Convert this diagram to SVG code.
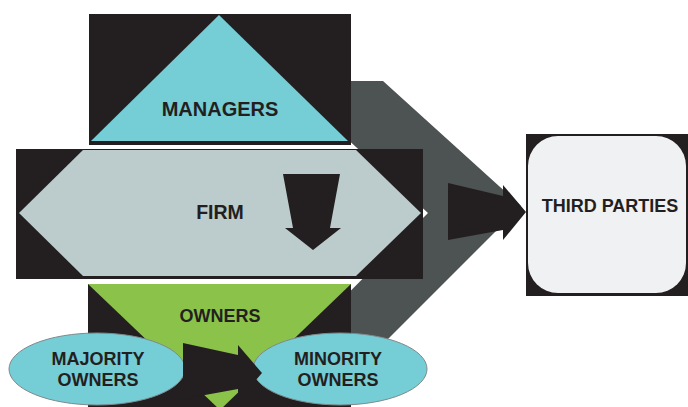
<svg xmlns="http://www.w3.org/2000/svg" width="688" height="407" viewBox="0 0 688 407">
  <style>
    .lbl { font-family: "Liberation Sans", Arial, sans-serif; font-weight: bold; fill: #231f20; text-anchor: middle; }
    .blk { fill: #231f20; }
    .oval { fill: #75cdd6; stroke: #7f8a8c; stroke-width: 1; }
  </style>
  <rect width="688" height="407" fill="#ffffff"/>

  <g id="connectors">
    <!-- wide chevron band behind the stack -->
    <polygon points="284,81 383,81 521,206 345,382 260,382 428,213" fill="#4d5253"/>
  </g>

  <g id="managers">
    <rect class="blk" x="89" y="14" width="262" height="131"/>
    <polygon points="219,15 348,141 91,141" fill="#75cdd6"/>
    <text class="lbl" x="220" y="116" font-size="20">MANAGERS</text>
  </g>

  <g id="firm">
    <rect class="blk" x="16" y="149" width="407" height="130"/>
    <polygon points="19,213 83,150 356,150 421,213 356,276 83,276" fill="#bccbcb"/>
    <text class="lbl" x="220" y="219" font-size="19.5">FIRM</text>
    <!-- downward arrow inside the firm -->
    <polygon class="blk" points="283,174 340,174 330,228 341,228 313,250 285,228 293,228"/>
  </g>

  <g id="owners">
    <rect class="blk" x="88" y="284" width="263" height="123"/>
    <polygon points="88,284 351,284 220,410" fill="#8bc34a"/>
    <text class="lbl" x="220" y="322" font-size="18">OWNERS</text>
  </g>

  <g id="majority-owners">
    <ellipse class="oval" cx="97" cy="369" rx="88" ry="36"/>
    <text class="lbl" x="98" y="365" font-size="18">MAJORITY</text>
    <text class="lbl" x="98" y="386" font-size="18">OWNERS</text>
  </g>

  <g id="minority-owners">
    <ellipse class="oval" cx="340" cy="369" rx="87" ry="36"/>
    <text class="lbl" x="338" y="365" font-size="18">MINORITY</text>
    <text class="lbl" x="338" y="386" font-size="18">OWNERS</text>
  </g>

  <g id="owner-arrow">
    <polygon class="blk" points="183,343 238,355 238,345 262,373 238,401 238,389 183,399"/>
  </g>

  <g id="firm-arrow">
    <polygon class="blk" points="448,183 503,196 503,185 526,212 503,240 503,230 448,240"/>
  </g>

  <g id="third-parties">
    <rect class="blk" x="526" y="134" width="162" height="162"/>
    <rect x="528" y="136" width="158" height="157" rx="30" ry="30" fill="#f0f1f3"/>
    <text class="lbl" x="610" y="212" font-size="18">THIRD PARTIES</text>
  </g>
</svg>
